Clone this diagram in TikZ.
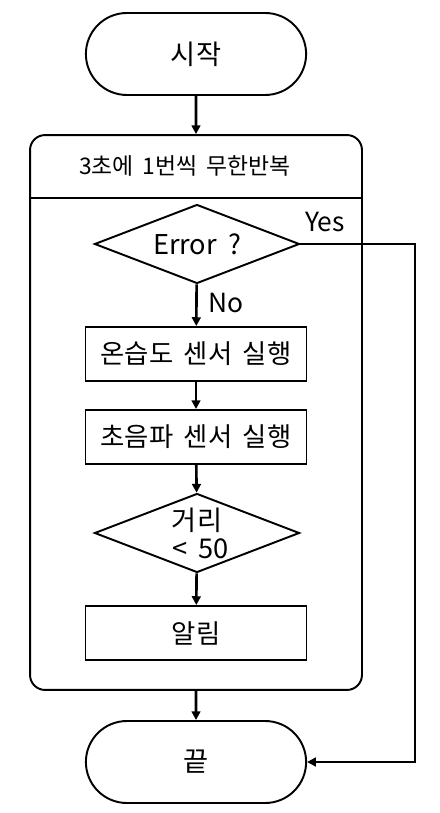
\documentclass[tikz,border=0pt]{standalone}
\usepackage{fontspec}
\setmainfont[WordSpace=1.8]{Noto Sans CJK KR}
\usetikzlibrary{shapes.misc,shapes.geometric,arrows.meta}
\begin{document}
\begin{tikzpicture}[x=0.02cm,y=-0.02cm,
	terminal/.style={draw,line width=1.1pt,rounded rectangle,minimum width=4.64cm,minimum height=1.64cm,font=\fontsize{15.5}{18}\selectfont},
	process/.style={draw,line width=1.1pt,rectangle,minimum width=4.42cm,minimum height=1.08cm,font=\fontsize{15}{17}\selectfont},
	decision/.style={draw,line width=1.1pt,diamond,aspect=2.6,inner sep=0pt,minimum width=4.1cm,minimum height=1.58cm,font=\fontsize{15.5}{18}\selectfont},
	flow/.style={line width=1.5pt,-{Triangle[length=5pt,width=5pt]}},
	tag/.style={font=\fontsize{15}{17}\selectfont}]
	\useasboundingbox (0,0) rectangle (439,813);
	\node[terminal] (start) at (196,54) {시작};
	\node[draw,line width=1.1pt,rounded corners=0.3cm,minimum width=6.64cm,minimum height=11.1cm] (loop) at (196,412.5) {};
	\draw[line width=1.1pt] (loop.west |- 0,198) -- (loop.east |- 0,198);
	\node[font=\fontsize{13}{15}\selectfont] (head) at (185,166) {3초에 1번씩 무한반복};
	\node[decision] (err) at (197,244) {Error ?};
	\node[process] (hum) at (196,354) {온습도 센서 실행};
	\node[process] (sonic) at (196,437) {초음파 센서 실행};
	\node[decision,align=center] (dist) at (197,533) {거리\\[-2pt]\hspace*{4pt}< 50};
	\node[process] (alarm) at (196,633) {알림};
	\node[terminal] (end) at (196,762) {끝};
	\coordinate (turn) at (415,244);
	\draw[flow] (start) -- (loop);
	\draw[flow] (err) -- (hum) node[tag,pos=0.45,right=3pt] {No};
	\draw[flow] (hum) -- (sonic);
	\draw[flow] (sonic) -- (dist);
	\draw[flow] (dist) -- (alarm);
	\draw[flow] (loop) -- (end);
	\draw[flow] (err.east) -- (turn) |- (end.east);
	\node[tag] (yes) at (325,222) {Yes};
\end{tikzpicture}
\end{document}
